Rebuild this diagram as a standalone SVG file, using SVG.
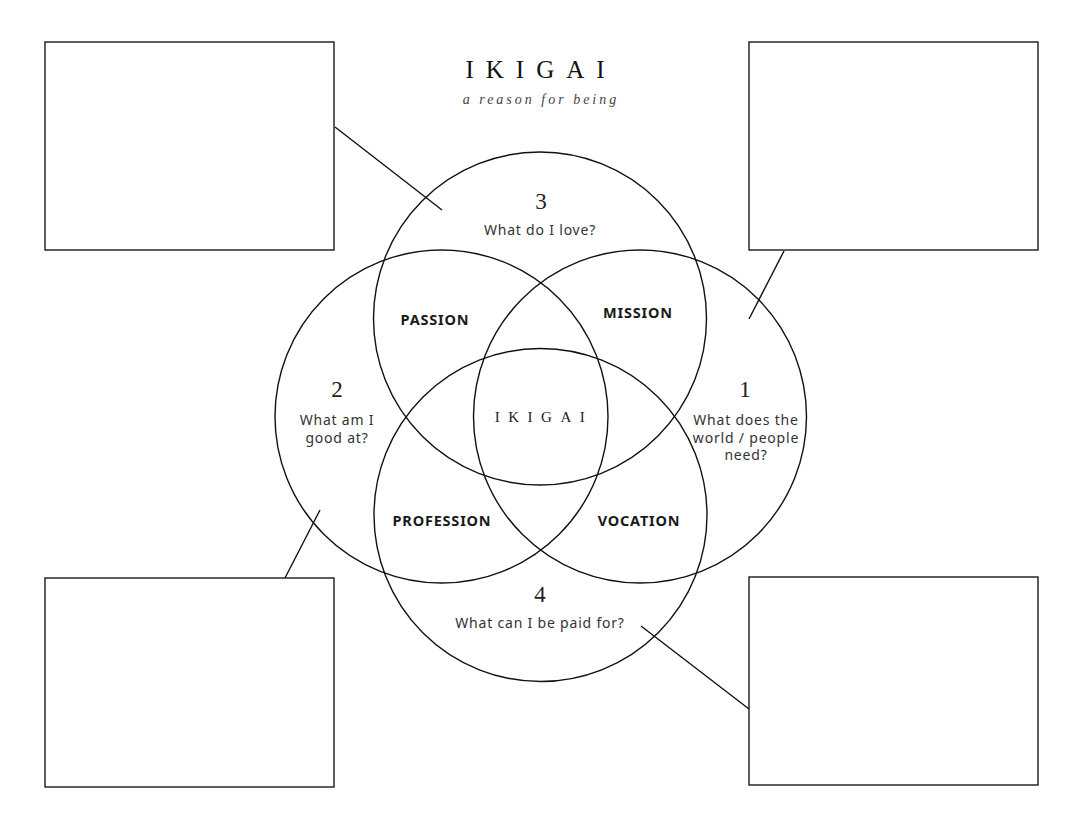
<svg xmlns="http://www.w3.org/2000/svg" width="1080" height="834" viewBox="0 0 1080 834">
<style>
.box{fill:none;stroke:#1a1a1a;stroke-width:1.4}
.c{fill:none;stroke:#111;stroke-width:1.4}
.ln{stroke:#111;stroke-width:1.4;fill:none}
.num{font-family:"Liberation Serif","DejaVu Serif",serif;font-size:23px;fill:#222;text-anchor:middle}
.q{font-family:"Noto Sans","Open Sans",sans-serif;font-size:14px;letter-spacing:0.8px;fill:#333;text-anchor:middle}
.lab{font-family:"Noto Sans","Open Sans",sans-serif;font-size:14.5px;letter-spacing:0.8px;font-weight:bold;fill:#1a1a1a;text-anchor:middle}
</style>
<rect width="1080" height="834" fill="#fff"/>
<g id="title">
<text x="541" y="78" font-family="Liberation Serif,serif" font-size="25" letter-spacing="12" text-anchor="middle" fill="#111">IKIGAI</text>
<text x="541" y="104" font-family="Liberation Serif,serif" font-style="italic" font-size="14" letter-spacing="3" text-anchor="middle" fill="#444">a reason for being</text>
</g>
<g id="box-top-left"><rect class="box" x="45" y="42" width="289" height="208"/></g>
<g id="box-top-right"><rect class="box" x="749" y="42" width="289" height="208"/></g>
<g id="box-bottom-left"><rect class="box" x="45" y="578" width="289" height="209"/></g>
<g id="box-bottom-right"><rect class="box" x="749" y="577" width="289" height="208"/></g>
<g id="circle-3"><circle class="c" cx="540" cy="318.5" r="166.5"/>
<text class="num" x="541" y="209">3</text>
<text class="q" x="540" y="235">What do I love?</text></g>
<g id="circle-2"><circle class="c" cx="441.5" cy="416.5" r="166.5"/>
<text class="num" x="337" y="397">2</text>
<text class="q" x="337" y="425">What am I</text>
<text class="q" x="337" y="442.5">good at?</text></g>
<g id="circle-1"><circle class="c" cx="640" cy="416.5" r="166.5"/>
<text class="num" x="745" y="397">1</text>
<text class="q" x="746" y="425">What does the</text>
<text class="q" x="746" y="442.5">world / people</text>
<text class="q" x="746" y="460">need?</text></g>
<g id="circle-4"><circle class="c" cx="540.5" cy="515" r="166.5"/>
<text class="num" x="540" y="602">4</text>
<text class="q" x="540" y="628">What can I be paid for?</text></g>
<g id="passion"><text class="lab" x="435" y="325">PASSION</text></g>
<g id="mission"><text class="lab" x="638" y="318">MISSION</text></g>
<g id="profession"><text class="lab" x="442" y="526">PROFESSION</text></g>
<g id="vocation"><text class="lab" x="639" y="526">VOCATION</text></g>
<g id="ikigai-center"><text x="544" y="422" font-family="Liberation Serif,serif" font-size="15" letter-spacing="8.5" text-anchor="middle" fill="#222">IKIGAI</text></g>
<g id="connectors">
<line class="ln" x1="335" y1="127" x2="442" y2="210"/>
<line class="ln" x1="784" y1="251" x2="749" y2="319"/>
<line class="ln" x1="285" y1="578" x2="320" y2="510"/>
<line class="ln" x1="641" y1="626" x2="749" y2="709"/>
</g>
</svg>
